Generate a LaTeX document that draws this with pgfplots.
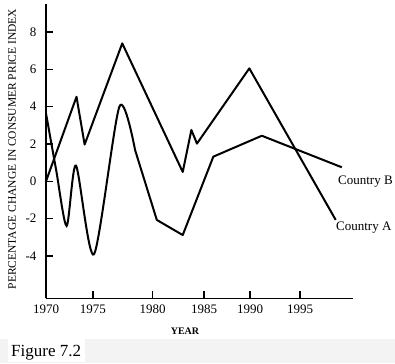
\documentclass[border=0pt]{standalone}
\usepackage{pgfplots}
\pgfplotsset{compat=1.18}
\usepackage{fontspec}
\setmainfont{Liberation Serif}
\definecolor{band}{RGB}{243,243,243}
\begin{document}
\begin{tikzpicture}[x=1pt,y=1pt]
\path[use as bounding box] (0,0) rectangle (395,363);
\fill[band] (0,0) rectangle (395,24);
\fill[white] (8,1) rectangle (85,24);
\node[anchor=base west, inner sep=0pt, font=\fontsize{17}{19}\selectfont] at (11,6.5) {Figure 7.2};
\begin{axis}[
  at={(46pt,64.5pt)}, anchor=south west,
  scale only axis, width=307pt, height=294.5pt,
  xmin=1970, xmax=2000.2, ymin=-6.28, ymax=9.5,
  axis x line=bottom, axis y line=left,
  axis line style={-, line width=1.8pt, black},
  tick align=inside, major tick length=7pt,
  tick style={line width=1.5pt, black},
  xtick={1970,1974.6,1980.5,1985.55,1990.08,1995},
  xticklabels={1970,1975,1980,1985,1990,1995},
  ytick={-4,-2,0,2,4,6,8},
  /pgf/number format/assume math mode=true,
  ticklabel style={font=\fontsize{13}{15}\selectfont},
  yticklabel style={xshift=-6pt},
  xticklabel style={yshift=-3pt},
  clip=false,
]
% Country A
\addplot[black, line width=2pt, line join=round] coordinates {
 (1970,0) (1973.0,4.53) (1973.8,1.97) (1977.5,7.39) (1983.45,0.5)
 (1984.3,2.75) (1984.85,2.02) (1990.0,6.05) (1998.5,-2.07)};
% Country B (curved part)
\addplot[black, line width=2pt, smooth, tension=0.45] coordinates {
 (1970,3.64) (1971.0,0.6) (1972.03,-2.39) (1972.95,0.84) (1974.72,-3.91)
 (1977.22,4.0) (1978.76,1.68)};
% Country B (straight part)
\addplot[black, line width=2pt, line join=round] coordinates {
 (1978.76,1.68) (1980.9,-2.07) (1983.45,-2.88)
 (1986.46,1.32) (1991.23,2.44) (1999.1,0.75)};
\end{axis}
\node[anchor=west, inner sep=0pt, font=\fontsize{13}{15}\selectfont] at (338,181) {Country B};
\node[anchor=west, inner sep=0pt, font=\fontsize{13}{15}\selectfont] at (336,135.5) {Country A};
\node[font=\fontsize{10}{12}\selectfont\bfseries] at (185,32) {YEAR};
\node[rotate=90, font=\fontsize{11.5}{13}\selectfont] at (12,214) {PERCENTAGE CHANGE IN CONSUMER PRICE INDEX};
\end{tikzpicture}
\end{document}
